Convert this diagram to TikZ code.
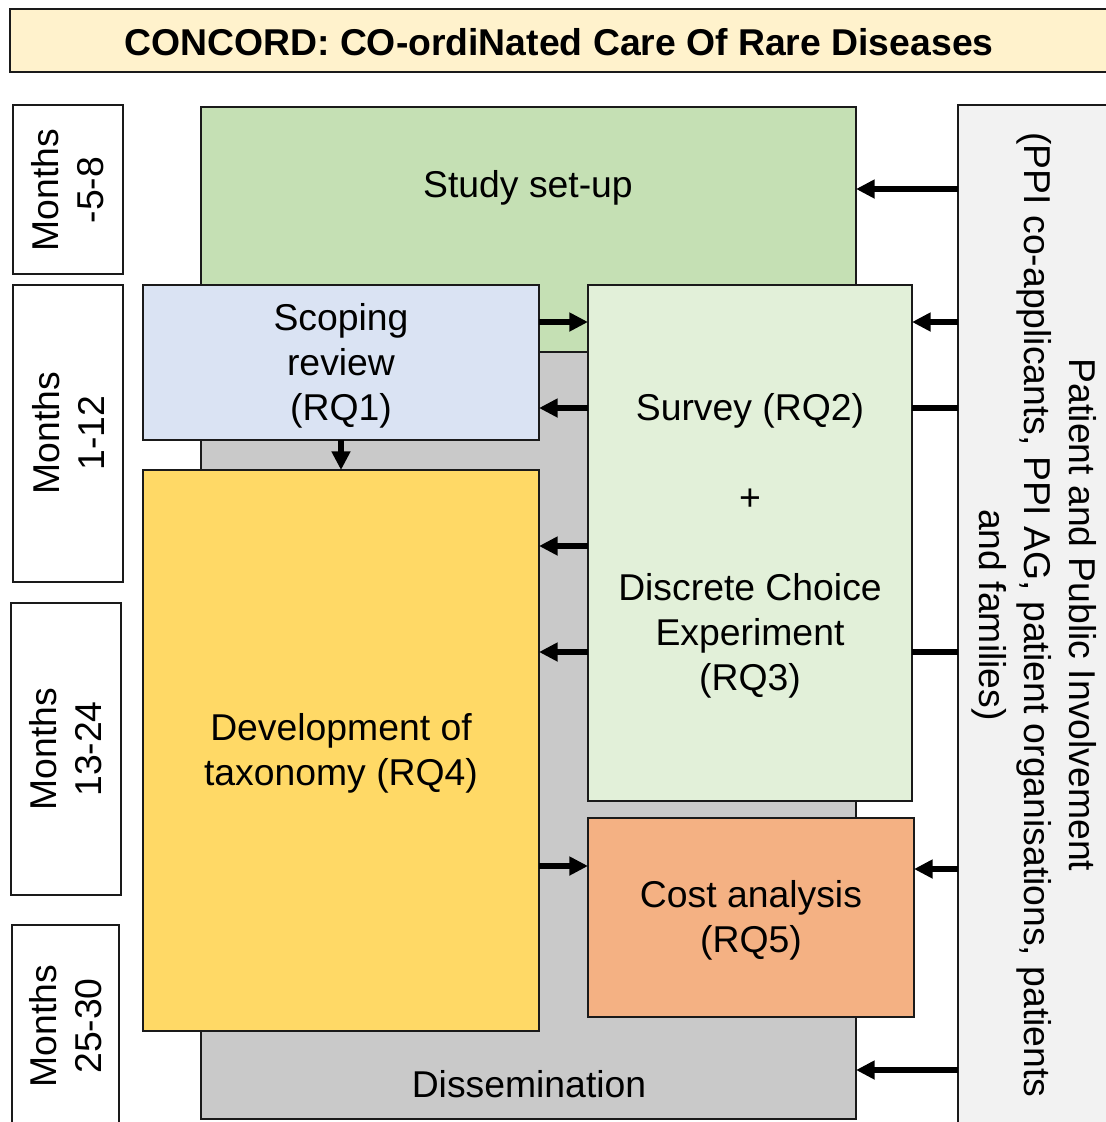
\documentclass[tikz,border=0pt]{standalone}
\usepackage{fontspec}
\setmainfont{Liberation Sans}
\usetikzlibrary{arrows.meta}
\definecolor{titlefill}{HTML}{FFF2CC}
\definecolor{setupfill}{HTML}{C5E0B4}
\definecolor{scopefill}{HTML}{DAE3F3}
\definecolor{surveyfill}{HTML}{E2F0D9}
\definecolor{taxfill}{HTML}{FFD966}
\definecolor{costfill}{HTML}{F4B183}
\definecolor{dissfill}{HTML}{C9C9C9}
\definecolor{ppifill}{HTML}{F2F2F2}
\definecolor{edge}{HTML}{1A1A1A}
\newcommand\mybox[7]{\node[box,#6,minimum width={(#4-#2)*0.75pt},minimum height={(#5-#3)*0.75pt}] (#1) at ({(#2+#4)/2},{(#3+#5)/2}) {};
  \node[txt] (#1t) at ({(#2+#4)/2},{(#3+#5)/2+3}) {#7};}
\begin{document}
\begin{tikzpicture}[x=0.75pt,y=-0.75pt,
  box/.style={draw=edge, line width=1pt, inner sep=0pt, outer sep=0pt},
  txt/.style={inner sep=0pt, align=center, font=\fontsize{28}{33.75}\selectfont},
  arr/.style={line width=4pt, -{Triangle[length=14pt,width=13.5pt]}},
  lnk/.style={line width=4pt}]
\useasboundingbox (0,0) rectangle (1106,1122);
\clip (0,0) rectangle (1106,1122);
\fill[white] (0,0) rectangle (1106,1122);
% title
\node[box,fill=titlefill,line width=1.5pt,minimum width={1098*0.75pt},minimum height={63*0.75pt}] (title) at (559,40.5) {};
\node[txt,font=\fontsize{28}{33.75}\selectfont\bfseries] (titlet) at (559,42) {CONCORD: CO-ordiNated Care Of Rare Diseases};
% month boxes
\mybox{m1}{13}{105}{123}{274}{fill=white}{}
\mybox{m2}{13}{285}{123}{582}{fill=white}{}
\mybox{m3}{11}{603}{121}{895}{fill=white}{}
\mybox{m4}{12}{925}{119}{1135}{fill=white}{}
\node[txt,rotate=90] (m1l) at (68,190) {Months\\-5-8};
\node[txt,rotate=90] (m2l) at (68,433) {Months\\1-12};
\node[txt,rotate=90] (m3l) at (66,749) {Months\\13-24};
\node[txt,rotate=90] (m4l) at (66,1026) {Months\\25-30};
% main boxes
\node[box,fill=dissfill,minimum width={655*0.75pt},minimum height={1012*0.75pt}] (diss) at (528.5,613) {};
\node[txt] (dissl) at (529,1084) {Dissemination};
\node[box,fill=setupfill,minimum width={655*0.75pt},minimum height={245*0.75pt}] (setup) at (528.5,229.5) {};
\node[txt] (setupl) at (528,188) {Study set-up};
\mybox{scope}{143}{285}{539}{440}{fill=scopefill}{Scoping\\review\\(RQ1)}
\mybox{survey}{588}{285}{912}{801}{fill=surveyfill}{Survey (RQ2)\\[33.75pt]+\\[33.75pt]Discrete Choice\\Experiment\\(RQ3)}
\mybox{tax}{143}{470}{539}{1031}{fill=taxfill}{Development of\\taxonomy (RQ4)}
\mybox{cost}{588}{818}{914}{1017}{fill=costfill}{Cost analysis\\(RQ5)}
\node[box,fill=ppifill,minimum width={154*0.75pt},minimum height={1030*0.75pt}] (ppi) at (1035,620) {};
\node[txt,rotate=-90] (ppil) at (1034,615) {Patient and Public Involvement\\(PPI co-applicants, PPI AG, patient organisations, patients\\and families)};
% connectors
\draw[arr] (ppi.west |- 0,189) -- (setup.east |- 0,189);
\draw[arr] (ppi.west |- 0,322) -- (survey.east |- 0,322);
\draw[lnk] (survey.east |- 0,408) -- (ppi.west |- 0,408);
\draw[lnk] (survey.east |- 0,652) -- (ppi.west |- 0,652);
\draw[arr] (ppi.west |- 0,869) -- (cost.east |- 0,869);
\draw[arr] (ppi.west |- 0,1070) -- (diss.east |- 0,1070);
\draw[arr] (scope.east |- 0,322) -- (survey.west |- 0,322);
\draw[arr] (survey.west |- 0,408) -- (scope.east |- 0,408);
\draw[arr] (scope.south -| 341,0) -- (tax.north -| 341,0);
\draw[arr] (survey.west |- 0,546) -- (tax.east |- 0,546);
\draw[arr] (survey.west |- 0,652) -- (tax.east |- 0,652);
\draw[arr] (tax.east |- 0,866) -- (cost.west |- 0,866);
\end{tikzpicture}
\end{document}
